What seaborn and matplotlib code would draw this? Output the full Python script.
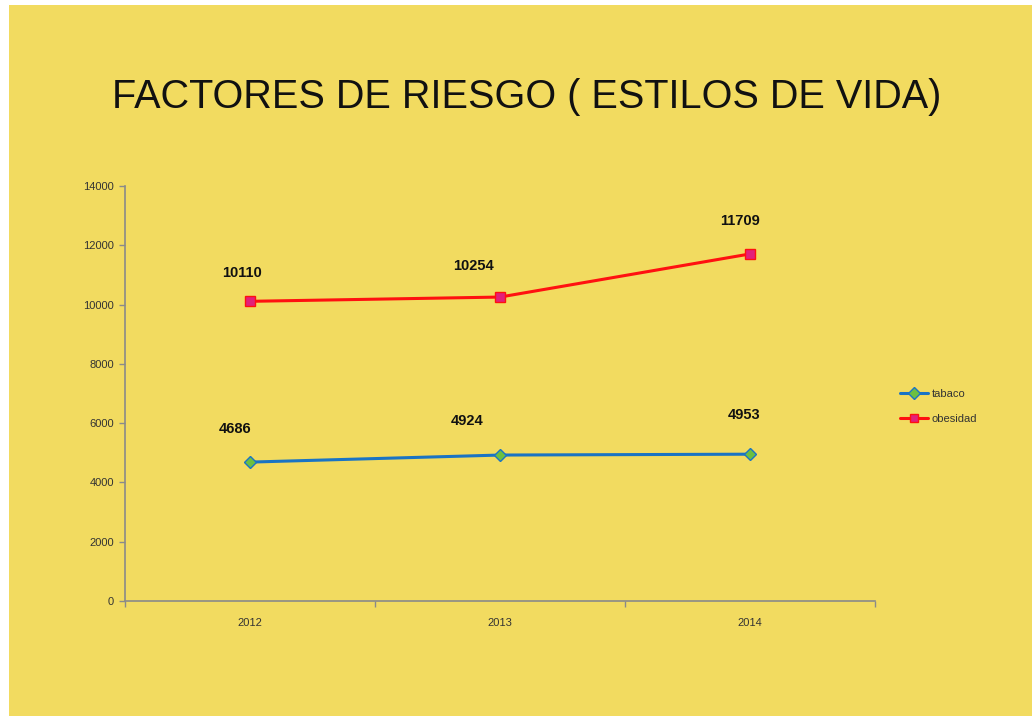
import numpy as np
import pandas as pd
import matplotlib
matplotlib.use("Agg")
import matplotlib.pyplot as plt
import seaborn as sns
from matplotlib.patches import Rectangle
from matplotlib.lines import Line2D

# data
years = ["2012", "2013", "2014"]
tabaco = [4686, 4924, 4953]
obesidad = [10110, 10254, 11709]
y_ticks = [0, 2000, 4000, 6000, 8000, 10000, 12000, 14000]

BG = "#f2db60"
SERIES_COLORS = {"tabaco": "#1a74c4", "obesidad": "#ff1010"}
FACE_COLORS = {"tabaco": "#6cc040", "obesidad": "#e2207a"}
MARKERS = {"tabaco": "D", "obesidad": "s"}

df = pd.DataFrame({
    "Year": years * 2,
    "Value": tabaco + obesidad,
    "Serie": ["tabaco"] * 3 + ["obesidad"] * 3,
})

sns.set_theme(style="white")
plt.rcParams['font.family'] = ['Liberation Sans', 'DejaVu Sans']

fig = plt.figure(figsize=(10.32, 7.16), dpi=100)
fig.patch.set_facecolor("white")
fig.patches.append(Rectangle((9 / 1032, 0), 1 - 9 / 1032, 1 - 5 / 716,
                             transform=fig.transFigure, facecolor=BG,
                             edgecolor="none", zorder=-10))
ax = fig.add_axes([0.121, 0.1606, 0.727, 0.5796])
ax.set_facecolor("none")

sns.lineplot(data=df, x="Year", y="Value", hue="Serie", style="Serie",
             palette=SERIES_COLORS, markers=MARKERS, dashes=False,
             lw=2.2, ax=ax, legend=False)

# recolour marker faces like the original
for line, name in zip(ax.get_lines(), ["tabaco", "obesidad"]):
    line.set_markerfacecolor(FACE_COLORS[name])
    line.set_markeredgecolor(SERIES_COLORS[name])
    line.set_markersize(7 if name == "obesidad" else 6)
    line.set_markeredgewidth(1.0)

# data labels (offsets in pixels, placed like the original)
offsets = {"tabaco": [(-15, 33), (-33, 34), (-6, 39)],
           "obesidad": [(-8, 28), (-27, 31), (-10, 33)]}
for name, vals in [("tabaco", tabaco), ("obesidad", obesidad)]:
    for i, v in enumerate(vals):
        dx, dy = offsets[name][i]
        ax.annotate(str(v), (i, v), xytext=(dx, dy), textcoords="offset pixels",
                    ha="center", va="center", fontsize=10.5, fontweight="bold",
                    color="#111111")

ax.set_xlim(-0.5, 2.5)
ax.set_ylim(0, 14000)
ax.set_yticks(y_ticks)
ax.set_yticklabels([str(t) for t in y_ticks])
ax.set_xticks([0, 1, 2])
ax.set_xticks([-0.5, 0.5, 1.5, 2.5], minor=True)
ax.tick_params(axis="x", which="major", length=0, pad=12, labelsize=8, labelcolor="#333333")
ax.tick_params(axis="x", which="minor", length=4, width=1, color="#8a8a8a", direction="out", bottom=True)
ax.tick_params(axis="y", length=4, width=1, color="#8a8a8a", direction="out", left=True,
               labelsize=8, labelcolor="#333333", pad=4)
ax.set_xlabel("")
ax.set_ylabel("")
for s in ["top", "right"]:
    ax.spines[s].set_visible(False)
for s in ["left", "bottom"]:
    ax.spines[s].set_color("#8a8a8a")
    ax.spines[s].set_linewidth(1.2)

# legend
handles = [Line2D([0], [0], color=SERIES_COLORS[n], lw=2.2, marker=MARKERS[n],
                  markerfacecolor=FACE_COLORS[n], markeredgecolor=SERIES_COLORS[n],
                  markersize=6) for n in ["tabaco", "obesidad"]]
fig.legend(handles, ["tabaco", "obesidad"], loc="center left",
           bbox_to_anchor=(0.862, 0.432), frameon=False, fontsize=8,
           handlelength=2.6, handletextpad=0.3, labelspacing=1.35,
           labelcolor="#333333")

fig.text(0.51, 0.865, "FACTORES DE RIESGO ( ESTILOS DE VIDA)", ha="center",
         va="center", fontsize=28.5, color="#111111")

fig.savefig("out.png", dpi=100, facecolor=fig.get_facecolor())
